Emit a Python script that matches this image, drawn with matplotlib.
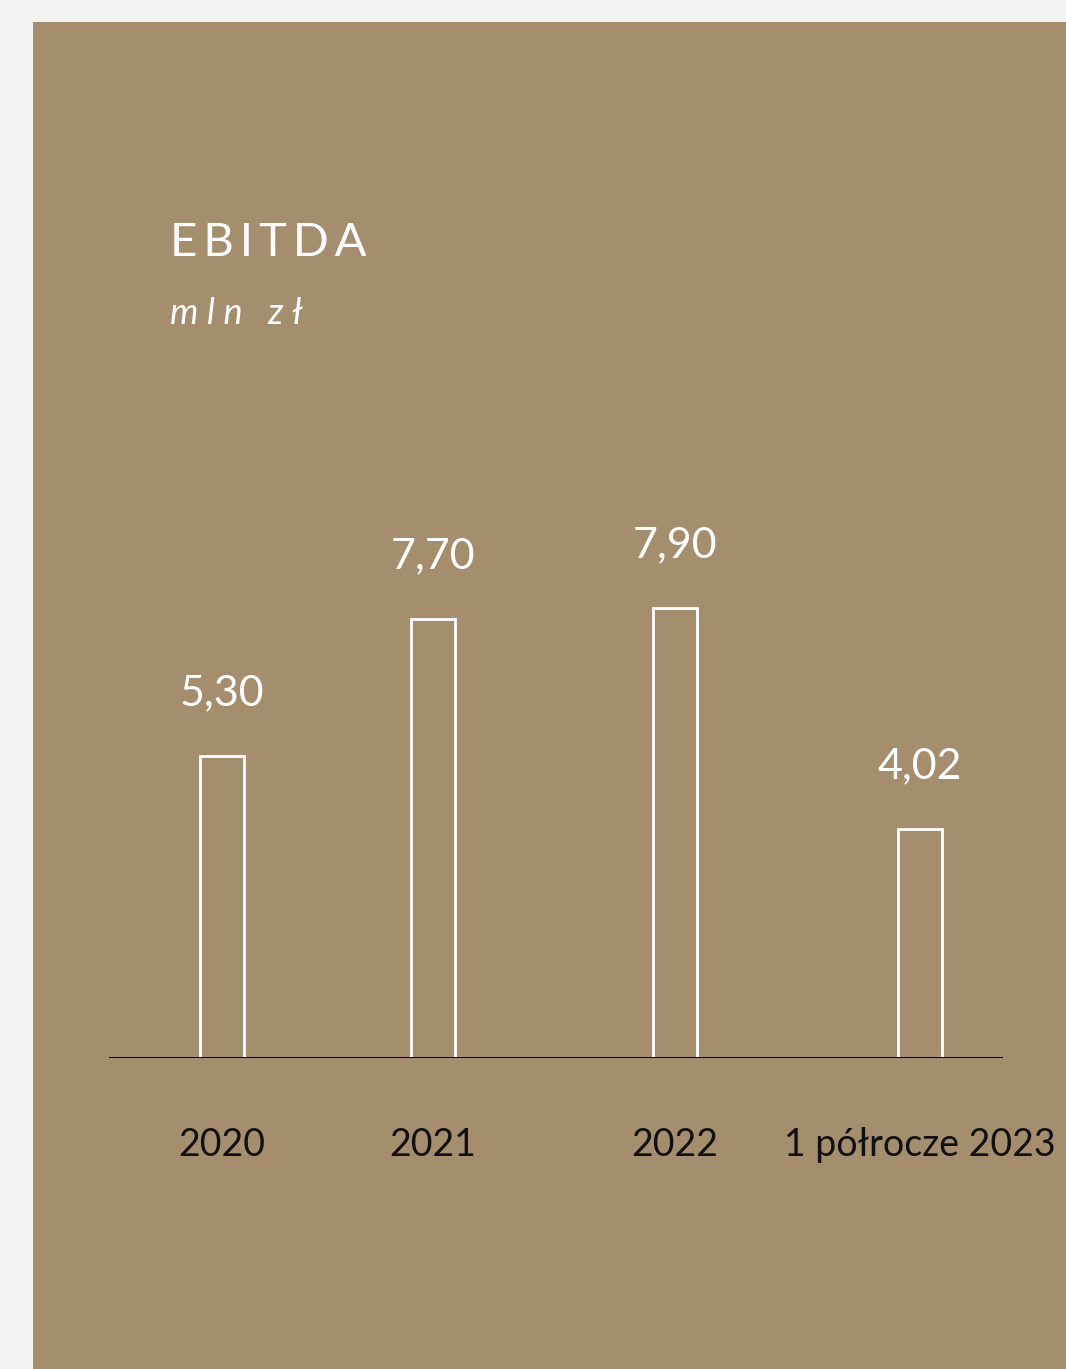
import matplotlib
matplotlib.use("Agg")
import matplotlib.pyplot as plt
from matplotlib.patches import Rectangle

plt.rcParams['font.family'] = ['Lato', 'DejaVu Sans']

# data
categories = ['2020', '2021', '2022', '1 półrocze 2023']
ebitda = [5.30, 7.70, 7.90, 4.02]
value_labels = ['5,30', '7,70', '7,90', '4,02']
title = 'EBITDA'
unit = 'mln zł'

# layout (bar centres are not evenly spaced in the original)
x_pos = [0, 0.907, 1.947, 3.0]
bar_w = 0.19

bg = '#f3f4f2'
panel = '#a58e6e'

W, H = 1066, 1369
fig = plt.figure(figsize=(W / 100, H / 100), dpi=100, facecolor=bg)
fig.patches.append(Rectangle((33 / W, 0), 1 - 33 / W, 1 - 22 / H,
                             transform=fig.transFigure, facecolor=panel,
                             edgecolor='none', zorder=-10))

ax = fig.add_axes([109 / W, 311 / H, 894 / W, 570 / H])
ax.set_zorder(5)
ax.set_facecolor('none')
ax.bar(x_pos, ebitda, width=bar_w, facecolor='none', edgecolor='white', linewidth=2)
ax.axhline(0, color='black', linewidth=1.4)
ax.set_xlim(-0.486, 3.357)
ax.set_ylim(0, 10)
for s in ax.spines.values():
    s.set_visible(False)
ax.set_yticks([])
ax.set_xticks(x_pos)
ax.set_xticklabels(categories, fontsize=27, color='#111111')
ax.tick_params(axis='x', length=0, pad=50)

for x, v, lab in zip(x_pos, ebitda, value_labels):
    ax.annotate(lab, (x, v), xytext=(0, 45), textcoords='offset points',
                ha='center', va='center', fontsize=31, color='white')

fig.text(170 / W, 1 - 243 / H, '\u2009'.join(title), fontsize=34, color='white',
         ha='left', va='center', zorder=6)
fig.text(170 / W, 1 - 313 / H, ' '.join(unit), fontsize=26,
         color='white', ha='left', va='center', style='italic', zorder=6)

fig.savefig('out.png', dpi=100, facecolor=bg)
